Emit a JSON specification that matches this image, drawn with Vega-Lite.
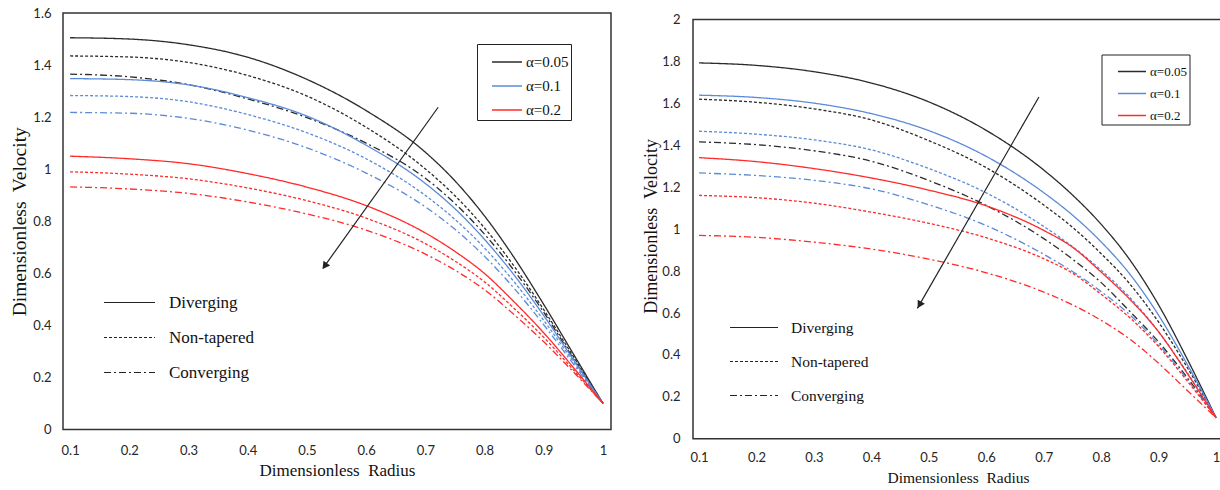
{
  "$schema": "https://vega.github.io/schema/vega-lite/v6.json",
  "background": "white",
  "padding": {"left": 9, "top": 6, "right": 0, "bottom": 0},
  "spacing": 30,
  "config": {
    "axis": {"domain": false, "ticks": false, "grid": false, "labelFont": "Lato", "labelFontSize": 13, "labelColor": "#262626", "titleFont": "Liberation Serif", "titleFontWeight": "normal", "titleColor": "#111111"},
    "legend": {"labelFont": "Liberation Serif", "labelColor": "#111111"}
  },
  "datasets": {
    "keys": [
      {"k": "D05", "alpha": "α=0.05", "type": "Diverging"},
      {"k": "N05", "alpha": "α=0.05", "type": "Non-tapered"},
      {"k": "C05", "alpha": "α=0.05", "type": "Converging"},
      {"k": "D1", "alpha": "α=0.1", "type": "Diverging"},
      {"k": "N1", "alpha": "α=0.1", "type": "Non-tapered"},
      {"k": "C1", "alpha": "α=0.1", "type": "Converging"},
      {"k": "D2", "alpha": "α=0.2", "type": "Diverging"},
      {"k": "N2", "alpha": "α=0.2", "type": "Non-tapered"},
      {"k": "C2", "alpha": "α=0.2", "type": "Converging"}
    ],
    "L": [
      {"x": 0.1, "D05": 1.505, "N05": 1.435, "C05": 1.365, "D1": 1.348, "N1": 1.283, "C1": 1.218, "D2": 1.05, "N2": 0.99, "C2": 0.932},
      {"x": 0.2, "D05": 1.5, "N05": 1.431, "C05": 1.355, "D1": 1.344, "N1": 1.279, "C1": 1.215, "D2": 1.04, "N2": 0.981, "C2": 0.924},
      {"x": 0.3, "D05": 1.478, "N05": 1.41, "C05": 1.325, "D1": 1.324, "N1": 1.259, "C1": 1.195, "D2": 1.021, "N2": 0.963, "C2": 0.907},
      {"x": 0.4, "D05": 1.43, "N05": 1.36, "C05": 1.27, "D1": 1.275, "N1": 1.21, "C1": 1.15, "D2": 0.983, "N2": 0.928, "C2": 0.874},
      {"x": 0.5, "D05": 1.345, "N05": 1.281, "C05": 1.198, "D1": 1.204, "N1": 1.14, "C1": 1.082, "D2": 0.931, "N2": 0.879, "C2": 0.828},
      {"x": 0.6, "D05": 1.225, "N05": 1.161, "C05": 1.1, "D1": 1.092, "N1": 1.04, "C1": 0.985, "D2": 0.86, "N2": 0.812, "C2": 0.766},
      {"x": 0.7, "D05": 1.065, "N05": 1.001, "C05": 0.965, "D1": 0.945, "N1": 0.899, "C1": 0.855, "D2": 0.755, "N2": 0.714, "C2": 0.674},
      {"x": 0.75, "D05": 0.955, "N05": 0.898, "C05": 0.868, "D1": 0.848, "N1": 0.807, "C1": 0.769, "D2": 0.684, "N2": 0.647, "C2": 0.612},
      {"x": 0.8, "D05": 0.82, "N05": 0.774, "C05": 0.75, "D1": 0.73, "N1": 0.697, "C1": 0.665, "D2": 0.599, "N2": 0.567, "C2": 0.537},
      {"x": 0.85, "D05": 0.66, "N05": 0.627, "C05": 0.61, "D1": 0.593, "N1": 0.567, "C1": 0.542, "D2": 0.49, "N2": 0.465, "C2": 0.441},
      {"x": 0.9, "D05": 0.48, "N05": 0.46, "C05": 0.45, "D1": 0.437, "N1": 0.419, "C1": 0.402, "D2": 0.371, "N2": 0.354, "C2": 0.337},
      {"x": 0.95, "D05": 0.29, "N05": 0.28, "C05": 0.272, "D1": 0.268, "N1": 0.26, "C1": 0.251, "D2": 0.238, "N2": 0.229, "C2": 0.221},
      {"x": 1.0, "D05": 0.1, "N05": 0.1, "C05": 0.1, "D1": 0.1, "N1": 0.1, "C1": 0.1, "D2": 0.1, "N2": 0.1, "C2": 0.1}
    ],
    "R": [
      {"x": 0.1, "D05": 1.793, "N05": 1.62, "C05": 1.416, "D1": 1.639, "N1": 1.467, "C1": 1.268, "D2": 1.341, "N2": 1.161, "C2": 0.97},
      {"x": 0.2, "D05": 1.781, "N05": 1.605, "C05": 1.403, "D1": 1.628, "N1": 1.453, "C1": 1.256, "D2": 1.322, "N2": 1.15, "C2": 0.961},
      {"x": 0.3, "D05": 1.751, "N05": 1.574, "C05": 1.374, "D1": 1.601, "N1": 1.426, "C1": 1.233, "D2": 1.289, "N2": 1.124, "C2": 0.938},
      {"x": 0.4, "D05": 1.697, "N05": 1.521, "C05": 1.324, "D1": 1.551, "N1": 1.378, "C1": 1.192, "D2": 1.244, "N2": 1.081, "C2": 0.905},
      {"x": 0.5, "D05": 1.607, "N05": 1.422, "C05": 1.232, "D1": 1.47, "N1": 1.289, "C1": 1.116, "D2": 1.186, "N2": 1.028, "C2": 0.857},
      {"x": 0.6, "D05": 1.471, "N05": 1.293, "C05": 1.113, "D1": 1.347, "N1": 1.173, "C1": 1.017, "D2": 1.111, "N2": 0.959, "C2": 0.792},
      {"x": 0.7, "D05": 1.282, "N05": 1.115, "C05": 0.955, "D1": 1.174, "N1": 1.013, "C1": 0.88, "D2": 0.994, "N2": 0.859, "C2": 0.7},
      {"x": 0.75, "D05": 1.163, "N05": 1.009, "C05": 0.857, "D1": 1.067, "N1": 0.917, "C1": 0.798, "D2": 0.914, "N2": 0.79, "C2": 0.639},
      {"x": 0.8, "D05": 1.023, "N05": 0.883, "C05": 0.745, "D1": 0.939, "N1": 0.804, "C1": 0.702, "D2": 0.795, "N2": 0.689, "C2": 0.565},
      {"x": 0.85, "D05": 0.853, "N05": 0.738, "C05": 0.607, "D1": 0.785, "N1": 0.674, "C1": 0.591, "D2": 0.665, "N2": 0.577, "C2": 0.475},
      {"x": 0.9, "D05": 0.638, "N05": 0.556, "C05": 0.462, "D1": 0.589, "N1": 0.51, "C1": 0.45, "D2": 0.51, "N2": 0.44, "C2": 0.36},
      {"x": 0.95, "D05": 0.379, "N05": 0.339, "C05": 0.291, "D1": 0.354, "N1": 0.315, "C1": 0.283, "D2": 0.311, "N2": 0.275, "C2": 0.23},
      {"x": 1.0, "D05": 0.1, "N05": 0.1, "C05": 0.1, "D1": 0.1, "N1": 0.1, "C1": 0.1, "D2": 0.1, "N2": 0.1, "C2": 0.1}
    ]
  },
  "resolve": {
    "scale": {"x": "independent", "y": "independent", "color": "independent", "strokeDash": "independent"},
    "legend": {"color": "independent", "strokeDash": "independent"}
  },
  "hconcat": [
    {
      "width": 548,
      "height": 416.5,
      "view": {"stroke": "#333333", "strokeWidth": 1.5},
      "layer": [
        {
          "data": {"name": "L"},
          "transform": [
            {"fold": ["D05", "N05", "C05", "D1", "N1", "C1", "D2", "N2", "C2"], "as": ["k", "v"]},
            {"lookup": "k", "from": {"data": {"name": "keys"}, "key": "k", "fields": ["alpha", "type"]}}
          ],
          "mark": {"type": "line", "strokeWidth": 1.3, "interpolate": "monotone"},
          "encoding": {
            "x": {"field": "x", "type": "quantitative", "scale": {"domain": [0.088, 1.0135], "nice": false, "zero": false},
                  "axis": {"title": "Dimensionless\u00a0 Radius", "values": [0.1, 0.2, 0.3, 0.4, 0.5, 0.6, 0.7, 0.8, 0.9, 1], "format": "~g", "labelPadding": 15, "titlePadding": 5, "titleFontSize": 17}},
            "y": {"field": "v", "type": "quantitative", "scale": {"domain": [0, 1.6], "nice": false},
                  "axis": {"title": "Dimensionless\u00a0 Velocity", "values": [0, 0.2, 0.4, 0.6, 0.8, 1, 1.2, 1.4, 1.6], "format": "~g", "labelPadding": 12, "minExtent": 30, "maxExtent": 30, "titlePadding": 3.25, "titleFontSize": 19.5}},
            "color": {"field": "alpha", "type": "nominal", "scale": {"domain": ["α=0.05", "α=0.1", "α=0.2"], "range": ["#2b2b2b", "#5b8bd8", "#ff2a2a"]},
                      "legend": {"title": null, "orient": "none", "legendX": 414, "legendY": 31, "symbolType": "stroke", "symbolSize": 900, "symbolStrokeWidth": 1.5, "symbolOffset": 12, "labelFont": "Liberation Serif", "labelFontSize": 15, "labelColor": "#111111", "labelOffset": 3, "padding": 2, "rowPadding": -6, "strokeColor": "#222222", "fillColor": "white"}},
            "strokeDash": {"field": "type", "type": "nominal", "scale": {"domain": ["Diverging", "Non-tapered", "Converging"], "range": [[1, 0], [3, 2], [7, 3, 2, 3]]},
                           "legend": {"title": null, "orient": "none", "legendX": 40, "legendY": 263, "symbolType": "stroke", "symbolSize": 2601, "symbolStrokeWidth": 1.2, "symbolStrokeColor": "#222222", "labelFont": "Liberation Serif", "labelFontSize": 17, "labelColor": "#111111", "labelOffset": 13, "padding": 0, "rowPadding": -16}},
            "detail": {"field": "k"}
          }
        },
        {
          "data": {"values": [{"x": 0.7216, "v": 1.238, "x2": 0.527, "v2": 0.619}]},
          "mark": {"type": "rule", "color": "#222222", "strokeWidth": 1.2},
          "encoding": {
            "x": {"field": "x", "type": "quantitative"},
            "y": {"field": "v", "type": "quantitative"},
            "x2": {"field": "x2"},
            "y2": {"field": "v2"}
          }
        },
        {
          "data": {"values": [{"x": 0.53, "v": 0.628}]},
          "mark": {"type": "point", "shape": "triangle-up", "angle": 216, "filled": true, "color": "#222222", "opacity": 1, "size": 70},
          "encoding": {
            "x": {"field": "x", "type": "quantitative"},
            "y": {"field": "v", "type": "quantitative"}
          }
        }
      ]
    },
    {
      "width": 530,
      "height": 425.8,
      "view": {"stroke": null},
      "layer": [
        {
          "data": {"name": "R"},
          "transform": [
            {"fold": ["D05", "N05", "C05", "D1", "N1", "C1", "D2", "N2", "C2"], "as": ["k", "v"]},
            {"lookup": "k", "from": {"data": {"name": "keys"}, "key": "k", "fields": ["alpha", "type"]}}
          ],
          "mark": {"type": "line", "strokeWidth": 1.3, "interpolate": "monotone"},
          "encoding": {
            "x": {"field": "x", "type": "quantitative", "scale": {"domain": [0.0895, 1.012], "nice": false, "zero": false},
                  "axis": {"title": "Dimensionless\u00a0 Radius", "values": [0.1, 0.2, 0.3, 0.4, 0.5, 0.6, 0.7, 0.8, 0.9, 1], "format": "~g", "labelPadding": 13, "titlePadding": 6, "titleFontSize": 15.5}},
            "y": {"field": "v", "type": "quantitative", "scale": {"domain": [0, 2.031], "nice": false},
                  "axis": {"title": "Dimensionless\u00a0 Velocity", "values": [0, 0.2, 0.4, 0.6, 0.8, 1, 1.2, 1.4, 1.6, 1.8, 2], "format": "~g", "labelPadding": 13, "minExtent": 30, "maxExtent": 30, "titlePadding": 3, "titleFontSize": 18}},
            "color": {"field": "alpha", "type": "nominal", "scale": {"domain": ["α=0.05", "α=0.1", "α=0.2"], "range": ["#2b2b2b", "#5b8bd8", "#ff2a2a"]},
                      "legend": {"title": null, "orient": "none", "legendX": 408.5, "legendY": 41.5, "symbolType": "stroke", "symbolSize": 784, "symbolStrokeWidth": 1.5, "symbolOffset": 13.5, "labelFont": "Liberation Serif", "labelFontSize": 13, "labelColor": "#111111", "labelOffset": 3, "padding": 2, "rowPadding": -5.5, "strokeColor": "#222222", "fillColor": "white"}},
            "strokeDash": {"field": "type", "type": "nominal", "scale": {"domain": ["Diverging", "Non-tapered", "Converging"], "range": [[1, 0], [3, 2], [7, 3, 2, 3]]},
                           "legend": {"title": null, "orient": "none", "legendX": 36, "legendY": 289.5, "symbolType": "stroke", "symbolSize": 2304, "symbolStrokeWidth": 1.2, "symbolStrokeColor": "#222222", "labelFont": "Liberation Serif", "labelFontSize": 15.5, "labelColor": "#111111", "labelOffset": 12, "padding": 0, "rowPadding": -15.5}},
            "detail": {"field": "k"}
          }
        },
        {
          "data": {"values": [{"x": 0.0895, "v": 0, "x2": 1.012, "v2": 2}]},
          "mark": {"type": "rect", "fillOpacity": 0, "stroke": "#333333", "strokeWidth": 1.5},
          "encoding": {
            "x": {"field": "x", "type": "quantitative"},
            "y": {"field": "v", "type": "quantitative"},
            "x2": {"field": "x2"},
            "y2": {"field": "v2"}
          }
        },
        {
          "data": {"values": [{"x": 0.6916, "v": 1.6306, "x2": 0.48, "v2": 0.622}]},
          "mark": {"type": "rule", "color": "#222222", "strokeWidth": 1.2},
          "encoding": {
            "x": {"field": "x", "type": "quantitative"},
            "y": {"field": "v", "type": "quantitative"},
            "x2": {"field": "x2"},
            "y2": {"field": "v2"}
          }
        },
        {
          "data": {"values": [{"x": 0.4837, "v": 0.6387}]},
          "mark": {"type": "point", "shape": "triangle-up", "angle": 210, "filled": true, "color": "#222222", "opacity": 1, "size": 70},
          "encoding": {
            "x": {"field": "x", "type": "quantitative"},
            "y": {"field": "v", "type": "quantitative"}
          }
        }
      ]
    }
  ]
}
